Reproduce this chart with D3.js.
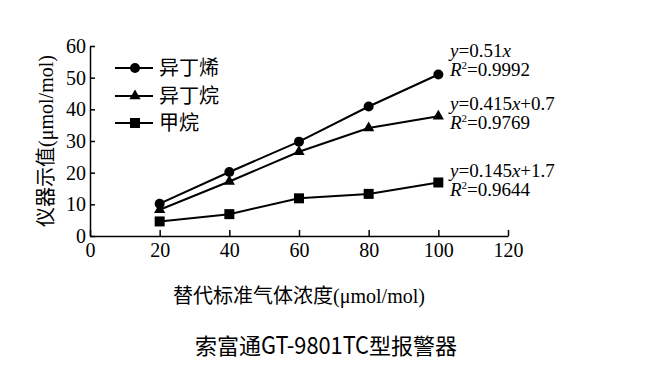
<!DOCTYPE html>
<html>
<head>
<meta charset="utf-8">
<script src="https://cdn.jsdelivr.net/npm/d3@7"></script>
<style>
  body { margin: 0; background: #fff; }
  svg { display: block; }
  .axis path, .axis line { stroke: #000; stroke-width: 1.5; }
  .axis text { font-family: "Liberation Serif", serif; font-size: 20px; fill: #000; }
</style>
</head>
<body>
<svg id="chart" width="653" height="380"></svg>
<script>
// concentrations (x) and instrument readings (y)
const concentrations = [20, 40, 60, 80, 100];
const isobutylene = [10.2, 20.2, 29.8, 40.9, 51.0];
const isobutane = [8.3, 17.2, 26.6, 34.1, 37.8];
const methane = [4.6, 6.9, 11.9, 13.3, 16.9];

const seriesNames = ['异丁烯', '异丁烷', '甲烷'];
const markerShapes = ['circle', 'triangle', 'square'];
const equations = ['0.51', '0.415', '0.145'];
const intercepts = ['', '+0.7', '+1.7'];
const rSquared = ['0.9992', '0.9769', '0.9644'];

const xTicks = [0, 20, 40, 60, 80, 100, 120];
const yTicks = [0, 10, 20, 30, 40, 50, 60];

const series = [isobutylene, isobutane, methane];

const svg = d3.select('#chart');
const x = d3.scaleLinear().domain([0, 120]).range([90, 508]);
const y = d3.scaleLinear().domain([0, 60]).range([236, 46]);

svg.append('g')
  .attr('class', 'axis')
  .attr('transform', `translate(0,${y(0)})`)
  .call(d3.axisBottom(x).tickValues(xTicks).tickSizeInner(-6).tickSizeOuter(0).tickPadding(7));

svg.append('g')
  .attr('class', 'axis')
  .attr('transform', `translate(${x(0)},0)`)
  .call(d3.axisLeft(y).tickValues(yTicks).tickSizeInner(-5).tickSizeOuter(0).tickPadding(4));

const line = d3.line().x(d => x(d[0])).y(d => y(d[1]));

function marker(sel, shape, size) {
  if (shape === 'circle') {
    sel.append('circle').attr('r', size * 0.5);
  } else if (shape === 'triangle') {
    sel.append('path').attr('d', d3.symbol(d3.symbolTriangle, size * size * 0.55)());
  } else {
    sel.append('rect').attr('x', -size / 2).attr('y', -size / 2).attr('width', size).attr('height', size);
  }
}

series.forEach((vals, i) => {
  const pts = concentrations.map((c, j) => [c, vals[j]]);
  svg.append('path')
    .attr('d', line(pts))
    .attr('fill', 'none')
    .attr('stroke', '#000')
    .attr('stroke-width', 2);
  pts.forEach(p => {
    const g = svg.append('g')
      .attr('transform', `translate(${x(p[0])},${y(p[1])})`)
      .attr('fill', '#000');
    marker(g, markerShapes[i], 10);
  });
});

// legend
const legendY = [68, 96, 123];
seriesNames.forEach((name, i) => {
  const g = svg.append('g').attr('transform', `translate(0,${legendY[i]})`);
  g.append('line').attr('x1', 115).attr('x2', 153).attr('stroke', '#000').attr('stroke-width', 2);
  const m = g.append('g').attr('transform', 'translate(135,0)').attr('fill', '#000');
  marker(m, markerShapes[i], 10);
  g.append('text')
    .attr('x', 159).attr('dy', '0.36em')
    .attr('font-family', '"Noto Sans CJK SC", sans-serif')
    .attr('font-size', 20)
    .text(name);
});

// regression labels
const eqBase = [57, 110, 177];
equations.forEach((k, i) => {
  const t = svg.append('text')
    .attr('font-family', '"Liberation Serif", serif')
    .attr('font-size', 19);
  const l1 = t.append('tspan').attr('x', 450).attr('y', eqBase[i]);
  l1.append('tspan').attr('font-style', 'italic').text('y');
  l1.append('tspan').text('=' + k);
  l1.append('tspan').attr('font-style', 'italic').text('x');
  l1.append('tspan').text(intercepts[i]);
  const l2 = svg.append('text')
    .attr('font-family', '"Liberation Serif", serif')
    .attr('font-size', 19)
    .attr('x', 450).attr('y', eqBase[i] + 19);
  l2.append('tspan').attr('font-style', 'italic').text('R');
  l2.append('tspan').attr('font-size', 11).attr('dy', -7).text('2');
  l2.append('tspan').attr('dy', 7).text('=' + rSquared[i]);
});

// axis titles
svg.append('text')
  .attr('transform', 'translate(53,141) rotate(-90)')
  .attr('text-anchor', 'middle')
  .attr('font-family', '"Liberation Serif", "Noto Sans CJK SC", serif')
  .attr('font-size', 20)
  .text('仪器示值(μmol/mol)');

svg.append('text')
  .attr('x', 299).attr('y', 303)
  .attr('text-anchor', 'middle')
  .attr('font-family', '"Liberation Serif", "Noto Sans CJK SC", serif')
  .attr('font-size', 20)
  .text('替代标准气体浓度(μmol/mol)');

// chart caption: CJK glyphs plus a narrow latin model number
const title = svg.append('text')
  .attr('x', 195).attr('y', 354)
  .attr('font-family', '"Noto Sans CJK SC", sans-serif')
  .attr('font-size', 22);
title.append('tspan').text('索富通');
title.append('tspan')
  .attr('font-size', 24)
  .attr('textLength', 108)
  .attr('lengthAdjust', 'spacingAndGlyphs')
  .text('GT-9801TC');
title.append('tspan').text('型报警器');
</script>
</body>
</html>
